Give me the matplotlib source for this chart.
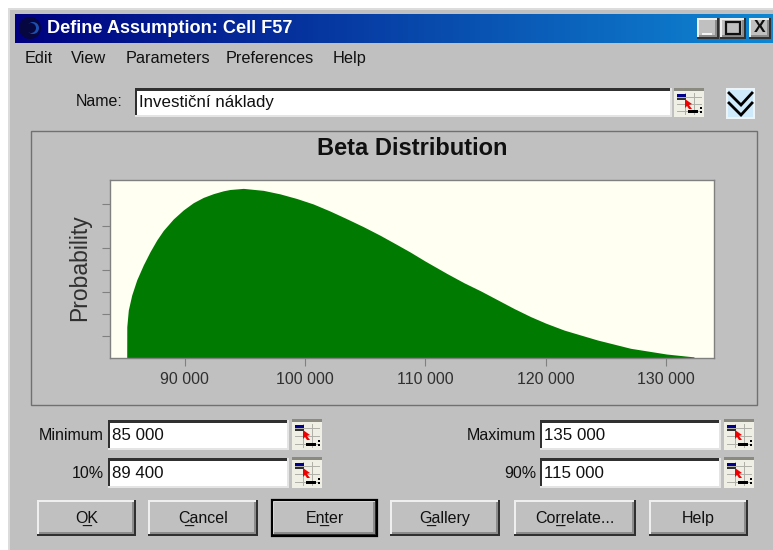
import numpy as np
import matplotlib
matplotlib.use("Agg")
import matplotlib.pyplot as plt
from matplotlib.patches import Rectangle, Polygon, Circle
from matplotlib.colors import LinearSegmentedColormap

plt.rcParams['font.family'] = ['Liberation Sans', 'DejaVu Sans']

# Data
values_x = [85179, 85185, 85312, 85594, 86010, 86558, 87115, 87672, 88221, 89052, 89884, 90715,
            91546, 92378, 93209, 93766, 94873, 96534, 97922, 99309, 100690, 102079, 103467,
            104847, 106235, 107623, 108729, 110000, 111828, 113213, 114598, 115983, 117368, 118753,
            120027, 121523, 124293, 127063, 130055, 132326]
values_y = [0.0, 1.42, 2.18, 2.86, 3.55, 4.23, 4.83, 5.36, 5.80, 6.32, 6.73, 7.06,
            7.30, 7.47, 7.60, 7.66, 7.71, 7.62, 7.46, 7.25, 7.00, 6.68, 6.33,
            5.97, 5.58, 5.16, 4.82, 4.40, 3.83, 3.42, 3.05, 2.65, 2.25, 1.88,
            1.58, 1.27, 0.82, 0.44, 0.18, 0.05]
x_ticks = [90000, 100000, 110000, 120000, 130000]
x_labels = ['90 000', '100 000', '110 000', '120 000', '130 000']
y_ticks = [1, 2, 3, 4, 5, 6, 7]
title_text = 'Beta Distribution'
y_title = 'Probability'
menu_items = [('Edit', 25), ('View', 71), ('Parameters', 126), ('Preferences', 226), ('Help', 333)]
buttons = [('O̲K', 37, 136), ('C̲ancel', 148, 258), ('En̲ter', 272, 377),
           ('G̲allery', 390, 500), ('Cor̲relate...', 514, 636), ('Help', 649, 748)]

W, H = 773, 550
GREY = '#c0c0c0'
fig = plt.figure(figsize=(W / 100, H / 100), dpi=100, facecolor='white')
ui = fig.add_axes([0, 0, 1, 1], zorder=0)
ui.set_xlim(0, W)
ui.set_ylim(H, 0)
ui.axis('off')


def rect(x0, y0, x1, y1, fc, ec='none', lw=0, z=1):
    ui.add_patch(Rectangle((x0, y0), x1 - x0, y1 - y0, fc=fc, ec=ec, lw=lw, zorder=z))


def raised(x0, y0, x1, y1, strong=False, z=2):
    rect(x0, y0, x1, y1, GREY, z=z)
    rect(x0, y0, x1, y0 + 2, '#efefef', z=z)
    rect(x0, y0, x0 + 2, y1, '#efefef', z=z)
    rect(x0, y1 - 2, x1, y1, '#303030', z=z)
    rect(x1 - 2, y0, x1, y1, '#303030', z=z)
    rect(x0 + 2, y1 - 4, x1 - 2, y1 - 2, '#8c8c8c', z=z)
    rect(x1 - 4, y0 + 2, x1 - 2, y1 - 2, '#8c8c8c', z=z)
    if strong:
        ui.add_patch(Rectangle((x0, y0), x1 - x0, y1 - y0, fc='none', ec='black', lw=1.6, zorder=z + 1))


def sunken(x0, y0, x1, y1, z=2):
    rect(x0, y0, x1, y1, 'white', z=z)
    rect(x0, y0, x1, y0 + 3, '#303030', z=z)
    rect(x0, y0, x0 + 2, y1, '#303030', z=z)
    rect(x0, y1 - 2, x1, y1, '#e4e4e4', z=z)
    rect(x1 - 2, y0, x1, y1, '#e4e4e4', z=z)


def cell_icon(x0, y0, x1, y1, z=3):
    rect(x0, y0, x1, y1, '#efefe6', z=z)
    rect(x0, y0, x1, y0 + 3, '#8a8a80', z=z)
    w, h = x1 - x0, y1 - y0
    for f in (0.3, 0.55, 0.8):
        ui.plot([x0 + 3, x1 - 3], [y0 + h * f] * 2, color='#b0b0a8', lw=0.7, zorder=z)
    for f in (0.35, 0.65):
        ui.plot([x0 + w * f] * 2, [y0 + 5, y1 - 3], color='#b0b0a8', lw=0.7, zorder=z)
    rect(x0 + 3, y0 + 6, x0 + 12, y0 + 9, '#00008a', z=z + 1)
    rect(x0 + 3, y0 + 10, x0 + 12, y0 + 12, '#303030', z=z + 1)
    ui.add_patch(Polygon([(x0 + 11, y0 + 11), (x0 + 18, y0 + 16), (x0 + 15, y0 + 17), (x0 + 18, y0 + 21),
                          (x0 + 15, y0 + 21), (x0 + 13, y0 + 18), (x0 + 11, y0 + 20)], fc='#ee0000', ec='none', zorder=z + 1))
    rect(x0 + 14, y1 - 7, x1 - 6, y1 - 4, 'black', z=z + 1)
    rect(x1 - 4, y1 - 10, x1 - 2, y1 - 8, 'black', z=z + 1)
    rect(x1 - 4, y1 - 6, x1 - 2, y1 - 4, 'black', z=z + 1)


def label(x, y, s, size=12, ha='left', color='#101010', weight='normal', z=6):
    ui.text(x, y, s, fontsize=size, ha=ha, va='center', color=color, weight=weight, zorder=z)


# Window body
rect(8, 8, W, H, GREY)
rect(8, 8, W, 10, '#dcdcdc')
rect(8, 8, 10, H, '#dcdcdc')

# Title bar
cmap = LinearSegmentedColormap.from_list('tb', ['#00007f', '#0f87d2'])
ui.imshow(np.linspace(0, 1, 256).reshape(1, -1), extent=(15, W, 43, 14), cmap=cmap, aspect='auto', zorder=1)
ui.set_xlim(0, W)
ui.set_ylim(H, 0)
ui.add_patch(Circle((30, 28), 11, fc='#060640', ec='none', zorder=2))
ui.add_patch(Circle((33, 28), 6, fc='#1c4fb0', ec='none', zorder=2))
ui.add_patch(Circle((31, 28), 5, fc='#060640', ec='none', zorder=2))
label(47, 28.5, 'Define Assumption: Cell F57', size=13.1, color='white', weight='bold')
for x0, x1 in ((697, 719), (720, 746), (749, 771)):
    raised(x0, 18, x1, 39)
rect(702, 33, 712, 35, '#f4f4f4', z=5)
ui.add_patch(Rectangle((726, 22), 14, 12, fc='none', ec='#101010', lw=1.6, zorder=5))
ui.text(760, 28, 'X', fontsize=12.5, weight='bold', ha='center', va='center', color='#101010', zorder=6)

# Menu
for s, x in menu_items:
    label(x, 58.5, s, size=11.7)

# Name row
label(123, 102, 'Name:', size=11.5, ha='right')
sunken(135, 88, 672, 117)
label(139, 102, 'Investiční náklady', size=12.2)
cell_icon(674, 88, 704, 117)
rect(726, 88, 755, 119, '#eef3f6', z=2)
rect(728, 90, 753, 117, '#cfeafa', z=2)
ui.plot([729, 741, 752], [93, 105, 93], color='black', lw=2.0, zorder=4, solid_joinstyle='miter')
ui.plot([729, 741, 752], [103, 115, 103], color='black', lw=2.0, zorder=4, solid_joinstyle='miter')

# Chart panel
ui.add_patch(Rectangle((31, 131), 726, 274, fc=GREY, ec='#707070', lw=1.0, zorder=1))

# Fields
for lab, val, xl, xi, yi in [('Minimum', '85 000', 104, 108, 420), ('10%', '89 400', 104, 108, 458),
                             ('Maximum', '135 000', 536, 540, 420), ('90%', '115 000', 536, 540, 458)]:
    label(xl, yi + 15, lab, size=11.5, ha='right')
    sunken(xi, yi, xi + 181, yi + 30)
    label(xi + 4, yi + 15, val, size=12.2)
    cell_icon(xi + 184, yi - 1, xi + 214, yi + 30)

# Buttons
for s, x0, x1 in buttons:
    raised(x0, 500, x1, 536, strong=s.startswith('En'))
    label((x0 + x1) / 2, 518, s, size=11.5, ha='center')

# Chart axes
ax = fig.add_axes([110 / W, 1 - 358 / H, 604 / W, 178 / H], zorder=2, facecolor='#fffff2')
ax.fill_between(values_x, values_y, 0, color='#007a00', lw=0)
ax.set_xlim(83790, 133990)
ax.set_ylim(0, 178 / 22)
ax.set_xticks(x_ticks, x_labels)
ax.set_yticks(y_ticks, [])
ax.tick_params(axis='x', length=6, width=0.8, color='#808080', labelsize=11.5, labelcolor='#303030', pad=4)
ax.tick_params(axis='y', length=6, width=0.8, color='#808080')
for sp in ax.spines.values():
    sp.set_color('#808080')
    sp.set_linewidth(1.0)
ax.set_ylabel(y_title, fontsize=16.5, color='#303030', labelpad=0)
ax.yaxis.set_label_coords((91 - 110) / 604, (358 - 268) / 178)
ax.set_title(title_text, fontsize=17, weight='bold', color='#101010', x=(412 - 110) / 604, y=1, pad=18)

fig.savefig('out.png', dpi=100, facecolor='white')
